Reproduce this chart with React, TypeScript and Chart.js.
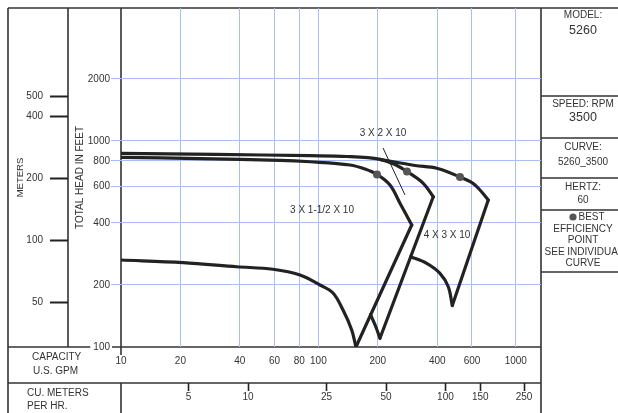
import React, { useEffect, useRef } from 'react';
import { Chart, registerables } from 'chart.js';

Chart.register(...registerables);

// ---------- axis ticks ----------
const GPM_TICKS = [10, 20, 40, 60, 80, 100, 200, 400, 600, 1000];
const M3H_TICKS = [5, 10, 25, 50, 100, 150, 250];
const FEET_TICKS = [100, 200, 400, 600, 800, 1000, 2000];
const METER_TICKS = [50, 100, 200, 400, 500];

const GPM_PER_M3H = 4.4029;
const FT_PER_M = 3.28084;
const GPM_MIN = 10;
const GPM_MAX = 1342;
const FT_MIN = 100;
const FT_MAX = 4422;

// ---------- pump 3 X 1-1/2 X 10 ----------
const pA_maxGpm = [10, 25.1, 63.9, 90.7, 144.6, 172.2, 198.1, 230.5, 259, 297];
const pA_maxFt = [833, 822, 806, 793, 765, 731, 688, 611, 499, 391];
const pA_endGpm = [297, 155];
const pA_endFt = [391, 100];
const pA_minGpm = [10, 20.6, 38.6, 58.9, 80.7, 101.9, 118.6, 133.3, 147.5, 155];
const pA_minFt = [264.5, 257, 245.3, 238.4, 223.7, 200, 182.9, 151.2, 121, 100];

// ---------- pump 3 X 2 X 10 ----------
const pB_maxGpm = [10, 30, 90.7, 139.1, 205.1, 244.4, 281, 338.8, 382];
const pB_maxFt = [871.5, 861, 848.4, 841, 815, 769, 711, 625, 536.6];
const pB_endGpm = [382, 205.1];
const pB_endFt = [536.6, 110.2];
const pB_minGpm = [183.6, 194.7, 205.1];
const pB_minFt = [143.8, 126.5, 110.2];

// ---------- pump 4 X 3 X 10 ----------
const pC_maxGpm = [205.1, 308.6, 397.5, 521.6, 607, 658.6, 725.5];
const pC_maxFt = [815, 760.5, 737, 668.6, 623, 578, 517];
const pC_endGpm = [725.5, 476.8];
const pC_endFt = [517, 159];
const pC_minGpm = [293.5, 353.7, 413, 455, 476.8];
const pC_minFt = [274.4, 254.9, 227.9, 196.2, 159];

// ---------- best efficiency points ----------
const bepGpm = [198.1, 281, 521.6];
const bepFt = [688, 711, 668.6];

// ---------- curve labels (data coords) ----------
const curveLabels = ['3 X 2 X 10', '3 X 1-1/2 X 10', '4 X 3 X 10'];
const curveLabelGpm = [212.5, 104.3, 448.3];
const curveLabelFt = [1094, 462, 350];
const leaderGpm = [212.5, 274.6];
const leaderFt = [925, 547];

const BLUE = '#a9bff4';
const INK = '#222222';
const TXT = '#333333';
const FONT = "'Liberation Sans', Arial, sans-serif";

const pts = (xs: number[], ys: number[]) => xs.map((x, i) => ({ x, y: ys[i] }));

const curve = (xs: number[], ys: number[], tension: number) => ({
  data: pts(xs, ys),
  borderColor: INK,
  borderWidth: 3.2,
  pointRadius: 0,
  tension,
  fill: false,
  borderCapStyle: 'round',
  borderJoinStyle: 'round',
});

const framePlugin = {
  id: 'frame',
  beforeDraw(chart: any) {
    const ctx = chart.ctx as CanvasRenderingContext2D;
    const ca = chart.chartArea;
    const W = chart.width;
    const H = chart.height;
    const y2 = chart.scales.y2;
    const x2 = chart.scales.x2;
    const L = y2.left;
    const mid = y2.right;
    ctx.save();
    ctx.fillStyle = '#fff';
    ctx.fillRect(0, 0, W, H);
    ctx.strokeStyle = '#333';
    ctx.lineWidth = 1.6;
    const line = (a: number, b: number, c: number, d: number) => {
      ctx.beginPath();
      ctx.moveTo(a, b);
      ctx.lineTo(c, d);
      ctx.stroke();
    };
    line(L, ca.top, W, ca.top);
    line(L, ca.top, L, H);
    line(mid, ca.top, mid, ca.bottom);
    line(ca.left, ca.top, ca.left, ca.bottom + 8);
    line(ca.left, x2.top, ca.left, H);
    line(L, ca.bottom, ca.right, ca.bottom);
    line(L, x2.top, ca.right, x2.top);
    line(ca.right, ca.top, ca.right, H);
    [96, 138, 178, 210, 272].forEach((y) => line(ca.right, y, W, y));

    // left-bottom captions
    ctx.fillStyle = TXT;
    ctx.font = `10px ${FONT}`;
    ctx.textAlign = 'left';
    ctx.textBaseline = 'middle';
    ctx.fillText('CAPACITY', L + 24, 357.5);
    ctx.fillText('U.S. GPM', L + 25, 371);
    ctx.fillText('CU. METERS', L + 19, 393.5);
    ctx.fillText('PER HR.', L + 19, 406.5);

    // right panel
    const cx = 583;
    ctx.save();
    ctx.beginPath();
    ctx.rect(ca.right + 1, 0, W - ca.right, H);
    ctx.clip();
    ctx.textAlign = 'center';
    const panel: [string, number, number][] = [
      ['MODEL:', 15, 10],
      ['5260', 31, 12.5],
      ['SPEED: RPM', 104, 10],
      ['3500', 118, 12.5],
      ['CURVE:', 147, 10],
      ['5260_3500', 162, 10],
      ['HERTZ:', 187, 10],
      ['60', 200, 10],
      ['EFFICIENCY', 229, 10],
      ['POINT', 240, 10],
      ['SEE INDIVIDUAL', 252, 10],
      ['CURVE', 263, 10],
    ];
    panel.forEach(([t, y, s]) => {
      ctx.font = `${s}px ${FONT}`;
      ctx.fillText(t, t === 'SEE INDIVIDUAL' ? 584 : cx, y);
    });
    ctx.font = `10px ${FONT}`;
    ctx.textAlign = 'left';
    ctx.fillText('BEST', 578.5, 217);
    ctx.fillStyle = '#555';
    ctx.beginPath();
    ctx.arc(573, 217, 3.6, 0, Math.PI * 2);
    ctx.fill();
    ctx.restore();
    ctx.restore();
  },
};

const labelPlugin = {
  id: 'curveLabels',
  afterDatasetsDraw(chart: any) {
    const ctx = chart.ctx as CanvasRenderingContext2D;
    const xs = chart.scales.x;
    const ys = chart.scales.y;
    ctx.save();
    ctx.fillStyle = TXT;
    ctx.font = `10px ${FONT}`;
    ctx.textAlign = 'center';
    ctx.textBaseline = 'middle';
    curveLabels.forEach((t, i) => {
      ctx.fillText(t, xs.getPixelForValue(curveLabelGpm[i]), ys.getPixelForValue(curveLabelFt[i]));
    });
    ctx.strokeStyle = INK;
    ctx.lineWidth = 1;
    ctx.beginPath();
    ctx.moveTo(xs.getPixelForValue(leaderGpm[0]), ys.getPixelForValue(leaderFt[0]));
    ctx.lineTo(xs.getPixelForValue(leaderGpm[1]), ys.getPixelForValue(leaderFt[1]));
    ctx.stroke();
    ctx.restore();
  },
};

const tickFont = { family: FONT, size: 10 };
const clear = 'rgba(0,0,0,0)';
const noPad = (s: any) => {
  s.paddingTop = 0;
  s.paddingBottom = 0;
  s.paddingLeft = 0;
  s.paddingRight = 0;
};

export default function App() {
  const ref = useRef<HTMLCanvasElement>(null);
  useEffect(() => {
    document.body.style.margin = '0';
    const canvas = ref.current!;
    Chart.defaults.font.family = FONT;
    const chart = new Chart(canvas, {
      type: 'line',
      data: {
        datasets: [
          {
            data: pts(bepGpm, bepFt),
            showLine: false,
            pointRadius: 4,
            pointBackgroundColor: '#555',
            pointBorderWidth: 0,
            order: -1,
          } as any,
          curve(pA_maxGpm, pA_maxFt, 0.35),
          curve(pA_endGpm, pA_endFt, 0),
          curve(pA_minGpm, pA_minFt, 0.35),
          curve(pB_maxGpm, pB_maxFt, 0.35),
          curve(pB_endGpm, pB_endFt, 0),
          curve(pB_minGpm, pB_minFt, 0.3),
          curve(pC_maxGpm, pC_maxFt, 0.35),
          curve(pC_endGpm, pC_endFt, 0),
          curve(pC_minGpm, pC_minFt, 0.35),
        ],
      },
      options: {
        responsive: false,
        animation: false,
        devicePixelRatio: 1,
        events: [],
        layout: { padding: { left: 8, top: 8, right: 77, bottom: 0 } },
        plugins: { legend: { display: false }, tooltip: { enabled: false } },
        scales: {
          x: {
            type: 'logarithmic',
            position: 'bottom',
            weight: 0,
            min: GPM_MIN,
            max: GPM_MAX,
            afterBuildTicks: (s: any) => {
              s.ticks = GPM_TICKS.map((v) => ({ value: v }));
            },
            afterFit: (s: any) => {
              s.height = 36;
              noPad(s);
            },
            border: { display: false },
            grid: {
              color: (c: any) => (c.tick && c.tick.value === 10 ? clear : BLUE),
              lineWidth: 1,
              tickLength: 8,
              tickColor: clear,
            },
            ticks: {
              autoSkip: false,
              maxRotation: 0,
              padding: 0,
              color: TXT,
              font: tickFont,
              callback: (v: any) => String(v),
            },
          },
          x2: {
            type: 'logarithmic',
            position: 'bottom',
            weight: 1,
            min: GPM_MIN / GPM_PER_M3H,
            max: GPM_MAX / GPM_PER_M3H,
            afterBuildTicks: (s: any) => {
              s.ticks = M3H_TICKS.map((v) => ({ value: v }));
            },
            afterFit: (s: any) => {
              s.height = 30;
              noPad(s);
            },
            border: { display: false },
            grid: {
              drawOnChartArea: false,
              tickLength: 8,
              tickColor: INK,
              tickWidth: 1.6,
            },
            ticks: {
              autoSkip: false,
              maxRotation: 0,
              padding: 0,
              color: TXT,
              font: tickFont,
              callback: (v: any) => String(v),
            },
          },
          y: {
            type: 'logarithmic',
            position: 'left',
            weight: 0,
            min: FT_MIN,
            max: FT_MAX,
            afterBuildTicks: (s: any) => {
              s.ticks = FEET_TICKS.map((v) => ({ value: v }));
            },
            afterFit: (s: any) => {
              s.width = 53;
              noPad(s);
            },
            border: { display: false },
            grid: {
              color: (c: any) => (c.tick && c.tick.value === 100 ? clear : BLUE),
              lineWidth: 1,
              tickLength: 10,
              tickColor: (c: any) => (c.tick && c.tick.value === 100 ? clear : BLUE),
            },
            ticks: {
              autoSkip: false,
              padding: 1,
              color: TXT,
              font: tickFont,
              showLabelBackdrop: true,
              backdropColor: (c: any) => (c.tick && c.tick.value === 100 ? '#fff' : clear),
              backdropPadding: { top: 0, bottom: 0, left: 3, right: 2 },
              callback: (v: any) => String(v),
            },
            title: {
              display: true,
              text: 'TOTAL HEAD IN FEET',
              color: TXT,
              font: { family: FONT, size: 10 },
              padding: { top: 6, bottom: 0 },
            },
          },
          y2: {
            type: 'logarithmic',
            position: 'left',
            weight: 1,
            min: FT_MIN / FT_PER_M,
            max: FT_MAX / FT_PER_M,
            afterBuildTicks: (s: any) => {
              s.ticks = METER_TICKS.map((v) => ({ value: v }));
            },
            afterFit: (s: any) => {
              s.width = 60;
              noPad(s);
            },
            border: { display: false },
            grid: {
              drawOnChartArea: false,
              tickLength: 18,
              tickColor: INK,
              tickWidth: 2,
            },
            ticks: {
              autoSkip: false,
              padding: 7,
              color: TXT,
              font: { family: FONT, size: 10 },
              callback: (v: any) => String(v),
            },
            title: {
              display: true,
              text: 'METERS',
              color: TXT,
              font: { family: FONT, size: 9.5 },
              padding: { top: 6.5, bottom: 0 },
            },
          },
        },
      } as any,
      plugins: [framePlugin, labelPlugin],
    });
    return () => chart.destroy();
  }, []);
  return <canvas ref={ref} width={618} height={413} style={{ display: 'block' }} />;
}
